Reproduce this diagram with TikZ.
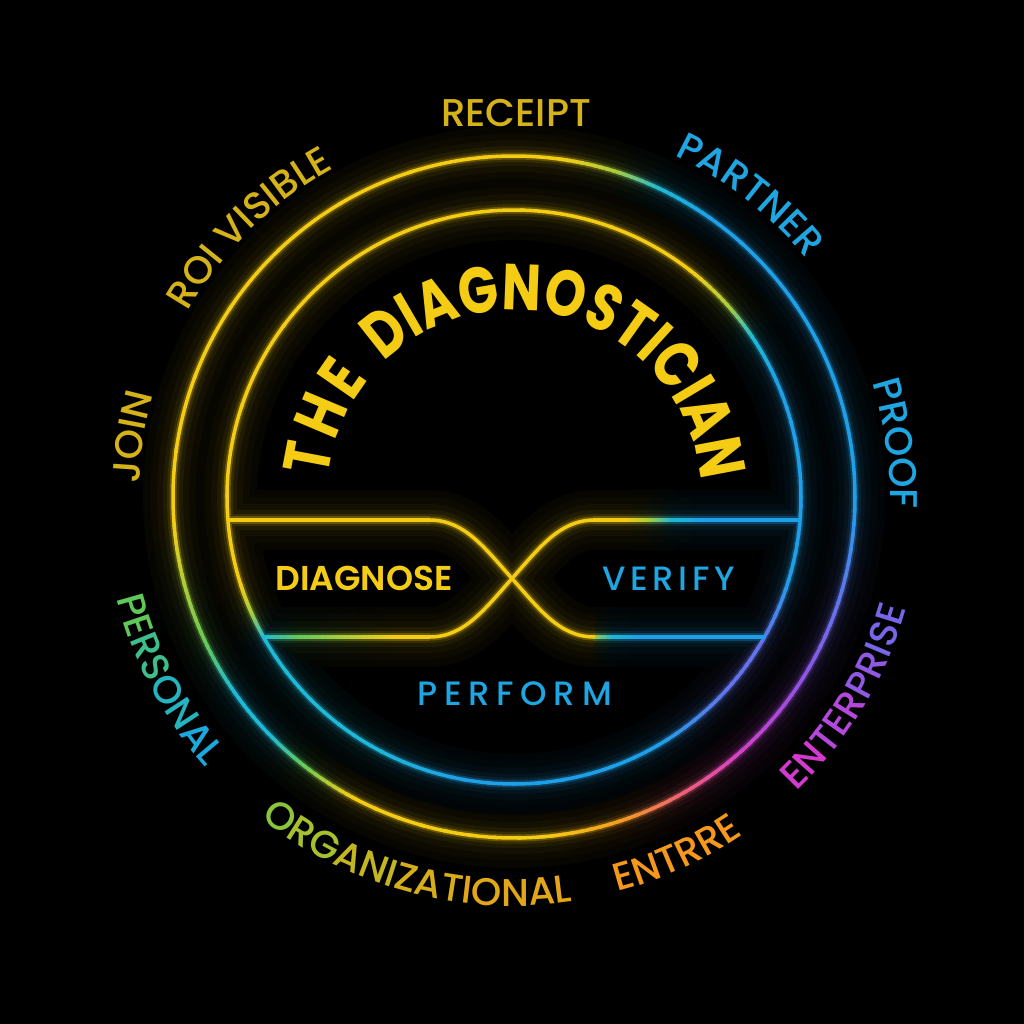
\documentclass[tikz,border=0pt]{standalone}
\usepackage{fontspec}
\usepackage{tikz}
\usetikzlibrary{decorations.text}

\newfontfamily\popmed{Poppins Medium}
\newfontfamily\popsemi{Poppins SemiBold}
\newfontfamily\popspaced{Poppins Medium}[LetterSpace=14]
\newfontfamily\popwide{Poppins Medium}[LetterSpace=20]
\newfontfamily\poptitle{Poppins Bold}[FakeStretch=0.8]
\newcommand{\lblfont}{\popmed\fontsize{11}{13}\selectfont}
\newcommand{\titlefont}{\poptitle\fontsize{18.5}{21}\selectfont}

% neon colours
\definecolor{nY}{RGB}{245,204,20}
\definecolor{nYG}{RGB}{170,205,60}
\definecolor{nG}{RGB}{100,200,90}
\definecolor{nC}{RGB}{30,185,215}
\definecolor{nB}{RGB}{30,160,232}
\definecolor{nV}{RGB}{100,115,235}
\definecolor{nP}{RGB}{150,80,225}
\definecolor{nM}{RGB}{210,65,200}
\definecolor{nR}{RGB}{240,95,120}
\definecolor{nO}{RGB}{245,160,30}
% label colours
\definecolor{cGold}{RGB}{212,178,24}
\definecolor{cSky}{RGB}{30,165,226}
\definecolor{cOrange}{RGB}{245,152,28}
\definecolor{ent1}{RGB}{212,58,208}
\definecolor{ent2}{RGB}{180,72,220}
\definecolor{ent3}{RGB}{145,88,228}
\definecolor{ent4}{RGB}{118,102,232}
\definecolor{per1}{RGB}{95,200,88}
\definecolor{per2}{RGB}{62,190,140}
\definecolor{per3}{RGB}{36,180,192}
\definecolor{per4}{RGB}{28,168,218}
\definecolor{org1}{RGB}{140,196,58}
\definecolor{org2}{RGB}{168,192,45}
\definecolor{org3}{RGB}{196,182,32}
\definecolor{org4}{RGB}{214,174,26}
\definecolor{org5}{RGB}{226,166,24}

% ring in colour steps: radius, colour share, angle/colour stops
\newcommand{\gradring}[3]{%
  \foreach \angA/\colA/\angB/\colB in {#3}{
    \foreach \seg in {0,...,7}{
      \pgfmathtruncatemacro\pct{(\seg+0.5)*12.5}
      \pgfmathsetmacro\sa{\angA+(\angB-\angA)*\seg/8-0.4}
      \pgfmathsetmacro\ea{\angA+(\angB-\angA)*(\seg+1)/8+0.4}
      \draw[draw=\colB!\pct!\colA!#2!black] (\sa:#1) arc[start angle=\sa, end angle=\ea, radius=#1];
    }}}
% horizontal line in colour steps: y, colour share, x/colour stops
\newcommand{\gradline}[3]{%
  \foreach \angA/\colA/\angB/\colB in {#3}{
    \foreach \seg in {0,...,7}{
      \pgfmathtruncatemacro\pct{(\seg+0.5)*12.5}
      \pgfmathsetmacro\sa{\angA+(\angB-\angA)*\seg/8-0.5}
      \pgfmathsetmacro\ea{\angA+(\angB-\angA)*(\seg+1)/8+0.5}
      \draw[draw=\colB!\pct!\colA!#2!black] (\sa,#1) -- (\ea,#1);
    }}}
% one glow layer of all lines: colour share, width
\newcommand{\neonlayer}[2]{%
  \begin{scope}[line width=#2]
    \gradring{341}{#1}{0/nB/55/nB, 55/nB/65/nC, 65/nC/73/nYG, 73/nYG/82/nY, 82/nY/185/nY,
      185/nY/196/nYG, 196/nYG/206/nG, 206/nG/215/nC, 215/nC/225/nC, 225/nC/232/nG,
      232/nG/242/nY, 242/nY/275/nY, 275/nY/288/nO, 288/nO/300/nR, 300/nR/312/nM,
      312/nM/326/nP, 326/nP/342/nV, 342/nV/360/nB}
    \gradring{287}{#1}{0/nB/24/nB, 24/nB/34/nC, 34/nC/42/nYG, 42/nYG/52/nY, 52/nY/198/nY,
      198/nY/204/nYG, 204/nYG/210/nC, 210/nC/240/nC, 240/nC/260/nB, 260/nB/300/nB,
      300/nB/318/nV, 318/nV/330/nV, 330/nV/345/nB, 345/nB/360/nB}
    \gradline{-23}{#1}{-286/nY/-84/nY, 80/nY/112/nY, 112/nY/135/nYG, 135/nYG/158/nC,
      158/nC/190/nB, 190/nB/286/nB}
    \gradline{-140}{#1}{-251/nC/-215/nG, -215/nG/-170/nYG, -170/nYG/-120/nY, -120/nY/-84/nY,
      80/nYG/98/nC, 98/nC/125/nB, 125/nB/251/nB}
    \draw[draw=nY!#1!black] (-84.5,-23) .. controls (-50,-23) and (-30,-50) .. (-2,-81.5)
      .. controls (26,-113) and (46,-140) .. (80.5,-140);
    \draw[draw=nY!#1!black] (-84.5,-140) .. controls (-50,-140) and (-30,-113) .. (-2,-81.5)
      .. controls (26,-50) and (46,-23) .. (80.5,-23);
  \end{scope}}

\begin{document}
\begin{tikzpicture}[x=0.01cm, y=0.01cm,
  lbl/.style={font=\lblfont, inner sep=0pt},
  inlbl/.style={font=\popsemi\fontsize{9.8}{11}\selectfont, inner sep=0pt},
  spaced/.style={font=\popspaced\fontsize{9.6}{11}\selectfont, inner sep=0pt},
  arclabel/.style={decorate, decoration={text along path, text align=center, text={#1}}},
  titlearc/.style={decorate, decoration={text along path, text align=fit to path,
    text={|\titlefont\color{nY}|#1}}}]
\useasboundingbox (-514,-527) rectangle (510,497);
\fill[black] (-514,-527) rectangle (510,497);

% rings and band, soft glow first
\neonlayer{3}{0.6cm}
\neonlayer{5}{0.45cm}
\neonlayer{8}{0.32cm}
\neonlayer{13}{0.2cm}
\neonlayer{22}{0.12cm}
\neonlayer{42}{0.07cm}
\neonlayer{100}{0.035cm}

% title
\path[titlearc={THE}] (174:187) arc[start angle=174, end angle=141, radius=187];
\path[titlearc={DIAGNOSTICIAN}] (134:187) arc[start angle=134, end angle=5, radius=187];

% band labels
\node (diagnose) [inlbl, text=nY] at (-150,-81.5) {DIAGNOSE};
\node (verify) [spaced, text=cSky] at (154.5,-82) {VERIFY};
\node (perform) [spaced, font=\popwide\fontsize{9.6}{11}\selectfont, text=cSky] at (0.5,-197) {PERFORM};

% outer labels
\node (receipt) [lbl, text=cGold] at (2,383.5) {RECEIPT};
\path[arclabel={|\lblfont\color{cGold}|ROI VISIBLE}] (154.5:375) arc[start angle=154.5, end angle=114.5, radius=375];
\path[arclabel={|\lblfont\color{cGold}|JOIN}] (186:375) arc[start angle=186, end angle=156, radius=375];
\path[arclabel={|\lblfont\color{cSky}|PARTNER}] (72:377) arc[start angle=72, end angle=32, radius=377];
\path[arclabel={|\lblfont\color{cSky}|PROOF}] (25:376) arc[start angle=25, end angle=-9, radius=376];
\path[arclabel={|\lblfont\color{ent1}|EN|\lblfont\color{ent2}|TER|\lblfont\color{ent3}|PR|\lblfont\color{ent4}|ISE}]
  (309:408) arc[start angle=309, end angle=349, radius=408];
\path[arclabel={|\lblfont\color{cOrange}|ENTRRE}] (279.5:408) arc[start angle=279.5, end angle=309.5, radius=408];
\path[arclabel={|\lblfont\color{org1}|O|\lblfont\color{org2}|RG|\lblfont\color{org3}|ANI|\lblfont\color{org4}|ZAT|\lblfont\color{org5}|IONAL}]
  (225:409) arc[start angle=225, end angle=285, radius=409];
\path[arclabel={|\lblfont\color{per1}|PE|\lblfont\color{per2}|RS|\lblfont\color{per3}|ON|\lblfont\color{per4}|AL}]
  (187.8:410) arc[start angle=187.8, end angle=227.8, radius=410];
\end{tikzpicture}
\end{document}
